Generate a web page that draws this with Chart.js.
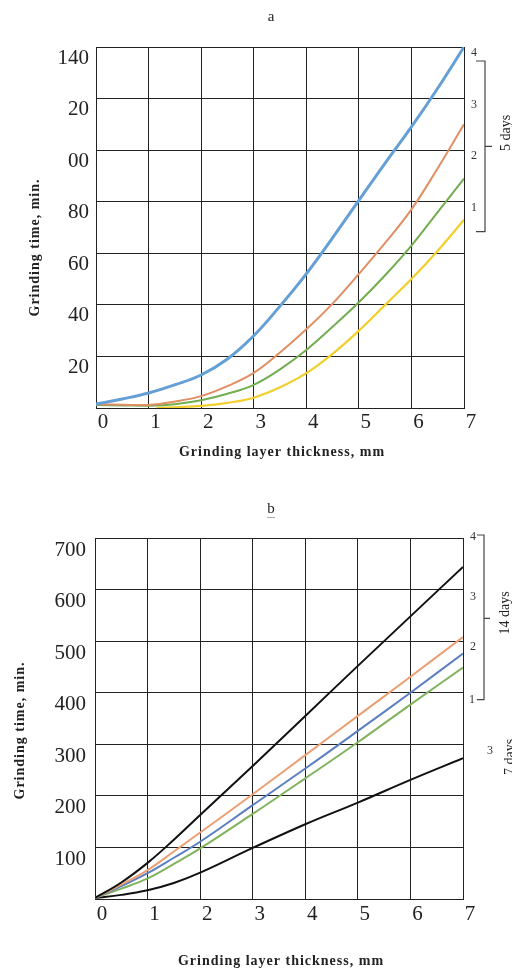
<!DOCTYPE html>
<html>
<head>
<meta charset="utf-8">
<script src="https://cdn.jsdelivr.net/npm/chart.js@4.4.1/dist/chart.umd.min.js"></script>
<style>
  html, body { margin: 0; padding: 0; background: #fff; }
  body { width: 512px; height: 973px; position: relative; overflow: hidden; }
  .box { position: absolute; left: 0; width: 512px; }
  #boxA { top: 0; height: 480px; }
  #boxB { top: 480px; height: 493px; }
</style>
</head>
<body>
<div class="box" id="boxA"><canvas id="chartA" width="512" height="480"></canvas></div>
<div class="box" id="boxB"><canvas id="chartB" width="512" height="493"></canvas></div>
<script>
// ---------- Tick labels ----------
const xTickLabels = ['0', '1', '2', '3', '4', '5', '6', '7'];
const yTickLabelsA = ['', '20', '40', '60', '80', '00', '20', '140'];
const yTickLabelsB = ['', '100', '200', '300', '400', '500', '600', '700'];

// ---------- Data: chart a (5 days) ----------
const xA = [0, 0.5, 1, 1.5, 2, 2.5, 3, 3.5, 4, 4.5, 5, 5.5, 6, 6.5, 7];
const a4 = [1.5, 3.5, 5.8, 9, 12.8, 19, 28, 39.5, 52, 66, 80.5, 95, 109, 124, 140];
const a3 = [1.5, 1.3, 1.2, 2.5, 4.6, 8.5, 13.6, 21.5, 30.5, 40.5, 52, 64, 77, 93, 110];
const a2 = [1.2, 1.0, 0.9, 1.5, 3, 5.5, 9, 15, 22.5, 31.5, 41, 51.5, 63, 76, 89];
const xA1 = [1.15, 1.5, 2, 2.5, 3, 3.5, 4, 4.5, 5, 5.5, 6, 6.5, 7];
const a1 = [0, 0.3, 0.8, 2, 4, 8, 13.5, 21, 30, 40, 50, 61, 73];

// ---------- Data: chart b (14 days / 7 days) ----------
const xB = [0, 0.5, 1, 1.5, 2, 3, 4, 5, 6, 7];
const b4 = [2, 32, 70, 115, 163, 258, 355, 452, 548, 644];
const b3 = [2, 28, 56, 92, 129, 203, 279, 355, 431, 508];
const b2 = [2, 25, 50, 80, 111, 182, 253, 326, 400, 476];
const b1 = [2, 20, 40, 68, 98, 165, 234, 304, 377, 449];
const b7 = [2, 8, 17, 31, 51, 99, 145, 187, 231, 273];

const SERIF = '"Liberation Serif", "Times New Roman", serif';

function pts(xs, ys) { return xs.map((x, i) => ({ x: x, y: ys[i] })); }

function line(xs, ys, color, width) {
  return {
    data: pts(xs, ys), borderColor: color, borderWidth: width,
    pointRadius: 0, fill: false, tension: 0.4
  };
}

function annotPlugin(cfg) {
  return {
    id: 'annot',
    afterDraw(chart) {
      const ctx = chart.ctx;
      const ca = chart.chartArea;
      const ys = chart.scales.y;
      const cx = (ca.left + ca.right) / 2;
      ctx.save();
      ctx.fillStyle = '#222';
      ctx.textAlign = 'center';
      ctx.textBaseline = 'middle';
      // panel title
      ctx.font = '15px ' + SERIF;
      ctx.fillText(cfg.title, cx + cfg.titleDx, cfg.titleY);
      // axis titles
      ctx.font = 'bold 14px ' + SERIF;
      ctx.letterSpacing = '1px';
      ctx.fillText('Grinding layer thickness, mm', cx + 2, ca.bottom + cfg.xTitleDy);
      ctx.save();
      ctx.translate(ca.left - cfg.yTitleDx, (ca.top + ca.bottom) / 2 + cfg.yTitleDy);
      ctx.rotate(-Math.PI / 2);
      ctx.fillText('Grinding time, min.', 0, 0);
      ctx.restore();
      ctx.letterSpacing = '0px';
      // curve numbers
      ctx.font = '12px ' + SERIF;
      ctx.fillStyle = '#333';
      cfg.nums.forEach(n => {
        ctx.fillText(n.t, ca.right + n.dx, ys.getPixelForValue(n.v) + n.dy);
      });
      // bracket
      const bk = cfg.bracket;
      const bx = ca.right + bk.dx;
      const y1 = ys.getPixelForValue(bk.v1) + bk.d1;
      const y2 = ys.getPixelForValue(bk.v2) + bk.d2;
      const ym = (y1 + y2) / 2 + bk.dm;
      ctx.strokeStyle = '#444';
      ctx.lineWidth = 1.2;
      ctx.beginPath();
      ctx.moveTo(bx - bk.tick, y1);
      ctx.lineTo(bx, y1);
      ctx.lineTo(bx, y2);
      ctx.lineTo(bx - bk.tick, y2);
      ctx.moveTo(bx, ym);
      ctx.lineTo(bx + bk.mid, ym);
      ctx.stroke();
      // rotated day labels
      ctx.fillStyle = '#222';
      ctx.font = '14px ' + SERIF;
      cfg.days.forEach(d => {
        ctx.save();
        ctx.translate(ca.right + d.dx, d.y);
        ctx.rotate(-Math.PI / 2);
        ctx.fillText(d.t, 0, 0);
        ctx.restore();
      });
      if (cfg.extra) cfg.extra(ctx, ca, ys);
      ctx.restore();
    }
  };
}

function makeChart(id, datasets, yMax, yStep, yLabels, geom, yLabelOffset, annot) {
  return new Chart(document.getElementById(id), {
    type: 'line',
    data: { datasets: datasets },
    options: {
      responsive: false,
      animation: false,
      layout: { padding: { left: 0, top: geom.top, right: geom.right, bottom: 0 } },
      plugins: { legend: { display: false }, tooltip: { enabled: false }, title: { display: false } },
      scales: {
        x: {
          type: 'linear', min: 0, max: 7,
          afterFit: s => { s.height = geom.xh; },
          grid: { color: '#222', lineWidth: 1, drawTicks: false },
          border: { display: true, color: '#222', width: 1 },
          ticks: {
            stepSize: 1, padding: geom.xpad, labelOffset: 7, color: '#222',
            font: { family: SERIF, size: 21 },
            callback: (v, i) => xTickLabels[i]
          }
        },
        y: {
          type: 'linear', min: 0, max: yMax,
          afterFit: s => { s.width = geom.left; },
          grid: { color: '#222', lineWidth: 1, drawTicks: false },
          border: { display: true, color: '#222', width: 1 },
          ticks: {
            stepSize: yStep, padding: geom.ypad, labelOffset: yLabelOffset, color: '#222',
            font: { family: SERIF, size: 21 },
            callback: (v, i) => yLabels[i]
          }
        }
      }
    },
    plugins: [annotPlugin(annot)]
  });
}

// ---------- Chart a ----------
makeChart('chartA', [
  line(xA, a4, '#64a0d6', 3),
  line(xA, a3, '#e28e63', 2),
  line(xA, a2, '#72ad50', 2),
  line(xA1, a1, '#f2cf2a', 2.2)
], 140, 20, yTickLabelsA, { left: 96, top: 47, right: 48, xh: 72, ypad: 7, xpad: 2 }, 11, {
  title: 'a', titleDx: -9, titleY: 17,
  xTitleDy: 44, yTitleDx: 61, yTitleDy: 20,
  nums: [
    { t: '4', v: 140, dx: 10, dy: 6 },
    { t: '3', v: 120, dx: 10, dy: 6 },
    { t: '2', v: 100, dx: 10, dy: 6 },
    { t: '1', v: 80, dx: 10, dy: 6 }
  ],
  bracket: { dx: 21, v1: 140, d1: 14, v2: 80, d2: 30, dm: 0, tick: 9, mid: 7 },
  days: [{ t: '5 days', dx: 42, y: 133 }]
});

// ---------- Chart b ----------
makeChart('chartB', [
  line(xB, b4, '#111111', 2),
  line(xB, b3, '#eb9f72', 2),
  line(xB, b2, '#5b7fc0', 2),
  line(xB, b1, '#80b35e', 2),
  line(xB, b7, '#111111', 2)
], 700, 100, yTickLabelsB, { left: 95, top: 58, right: 49, xh: 74, ypad: 9, xpad: 3 }, 12, {
  title: 'b', titleDx: -8, titleY: 29,
  xTitleDy: 62, yTitleDx: 75, yTitleDy: 12,
  nums: [
    { t: '4', v: 700, dx: 10, dy: -1 },
    { t: '3', v: 600, dx: 10, dy: 7 },
    { t: '2', v: 500, dx: 10, dy: 6 },
    { t: '1', v: 400, dx: 9, dy: 7 },
    { t: '3', v: 300, dx: 27, dy: 7 }
  ],
  bracket: { dx: 21, v1: 700, d1: -3, v2: 400, d2: 7, dm: 1, tick: 7, mid: 6 },
  days: [{ t: '14 days', dx: 42, y: 133 }, { t: '7 days', dx: 47, y: 277 }],
  extra: (ctx, ca, ys) => {
    // small squiggle under "b"
    ctx.strokeStyle = '#999';
    ctx.lineWidth = 0.8;
    ctx.beginPath();
    const x0 = (ca.left + ca.right) / 2 - 12, y0 = 37;
    for (let i = 0; i <= 8; i++) {
      const x = x0 + i;
      const y = y0 + (i % 2 ? 1 : 0);
      if (i === 0) ctx.moveTo(x, y); else ctx.lineTo(x, y);
    }
    ctx.stroke();
  }
});
</script>
</body>
</html>
